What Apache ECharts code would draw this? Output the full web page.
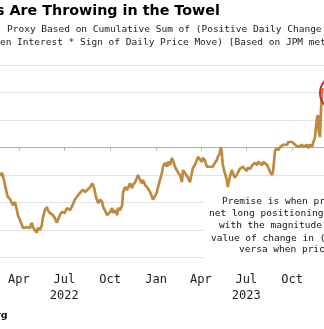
<!DOCTYPE html>
<html>
<head>
<meta charset="utf-8">
<script src="https://cdn.jsdelivr.net/npm/echarts@6/dist/echarts.min.js"></script>
<style>
  html, body { margin: 0; padding: 0; background: #fff; }
  #chart { width: 324px; height: 329px; }
</style>
</head>
<body>
<div id="chart"></div>
<script>
// Positioning proxy readings (arbitrary units), by date
const dates = [
  '2022-02-22','2022-02-26','2022-03-02','2022-03-04','2022-03-08','2022-03-10','2022-03-14','2022-03-18',
  '2022-03-20','2022-03-24','2022-03-28','2022-03-30','2022-04-03','2022-04-07','2022-04-09','2022-04-13',
  '2022-04-17','2022-04-23','2022-04-27','2022-04-29','2022-05-03','2022-05-07','2022-05-09','2022-05-13',
  '2022-05-17','2022-05-19','2022-05-23','2022-05-27','2022-05-29','2022-06-02','2022-06-08','2022-06-12',
  '2022-06-16','2022-06-18','2022-06-22','2022-06-26','2022-07-02','2022-07-06','2022-07-12','2022-07-16',
  '2022-07-18','2022-07-22','2022-07-26','2022-08-01','2022-08-07','2022-08-12','2022-08-16','2022-08-22',
  '2022-08-26','2022-08-28','2022-08-30','2022-09-03','2022-09-07','2022-09-11','2022-09-15','2022-09-17',
  '2022-09-21','2022-09-25','2022-09-27','2022-10-01','2022-10-05','2022-10-07','2022-10-11','2022-10-15',
  '2022-10-17','2022-10-21','2022-10-25','2022-10-27','2022-10-31','2022-11-04','2022-11-06','2022-11-10',
  '2022-11-14','2022-11-16','2022-11-20','2022-11-24','2022-11-26','2022-11-30','2022-12-04','2022-12-06',
  '2022-12-10','2022-12-14','2022-12-16','2022-12-20','2022-12-24','2022-12-26','2022-12-30','2023-01-03',
  '2023-01-05','2023-01-09','2023-01-13','2023-01-15','2023-01-19','2023-01-23','2023-01-25','2023-01-29',
  '2023-02-02','2023-02-04','2023-02-08','2023-02-12','2023-02-14','2023-02-18','2023-02-22','2023-02-24',
  '2023-02-28','2023-03-04','2023-03-06','2023-03-10','2023-03-14','2023-03-16','2023-03-20','2023-03-24',
  '2023-03-26','2023-03-30','2023-04-03','2023-04-05','2023-04-09','2023-04-13','2023-04-15','2023-04-19',
  '2023-04-23','2023-04-25','2023-04-29','2023-05-03','2023-05-05','2023-05-09','2023-05-11','2023-05-13',
  '2023-05-15','2023-05-19','2023-05-23','2023-05-25','2023-05-29','2023-06-02','2023-06-04','2023-06-08',
  '2023-06-12','2023-06-18','2023-06-24','2023-06-28','2023-07-02','2023-07-04','2023-07-09','2023-07-13',
  '2023-07-15','2023-07-19','2023-07-23','2023-07-25','2023-07-29','2023-08-02','2023-08-04','2023-08-08',
  '2023-08-12','2023-08-14','2023-08-18','2023-08-22','2023-08-24','2023-08-26','2023-08-28','2023-09-01',
  '2023-09-03','2023-09-07','2023-09-11','2023-09-13','2023-09-17','2023-09-21','2023-09-23','2023-09-27',
  '2023-10-01','2023-10-03','2023-10-07','2023-10-11','2023-10-13','2023-10-17','2023-10-21','2023-10-23',
  '2023-10-27','2023-10-31','2023-11-02','2023-11-06','2023-11-10','2023-11-12','2023-11-16','2023-11-18',
  '2023-11-20','2023-11-22','2023-11-24','2023-11-26','2023-11-28','2023-11-30','2023-12-02'
];
const values = [
  -52,-46,-59,-68,-85,-90,-94,-95,
  -105,-99,-114,-123,-132,-141,-146,-143,
  -145,-146,-137,-145,-150,-155,-146,-150,
  -141,-128,-114,-108,-114,-119,-123,-128,
  -137,-135,-123,-117,-119,-110,-114,-108,
  -110,-95,-90,-83,-77,-81,-81,-72,
  -65,-63,-74,-92,-101,-95,-99,-108,
  -110,-123,-126,-117,-110,-119,-114,-123,
  -110,-114,-105,-81,-72,-77,-74,-65,
  -74,-68,-63,-65,-50,-59,-65,-59,
  -68,-72,-74,-81,-90,-95,-92,-81,
  -72,-59,-45,-35,-28,-35,-26,-32,
  -19,-23,-35,-35,-45,-50,-63,-41,
  -46,-45,-55,-63,-46,-37,-32,-23,
  -17,-19,-26,-19,-23,-35,-37,-35,
  -32,-35,-28,-23,-17,-10,1,-10,
  -32,-46,-59,-72,-54,-41,-46,-55,
  -50,-39,-35,-39,-43,-37,-39,-32,
  -35,-28,-32,-26,-28,-32,-26,-28,
  -32,-35,-45,-50,-41,-23,-5,-1,
  -5,1,-1,5,8,5,10,8,
  10,8,5,8,1,-1,5,1,
  -1,5,-1,5,1,8,19,37,
  54,59,26,19,68,99,108
];

// Visible date window and axis scale
const firstDay = '2022-02-22';
const lastDay = '2023-12-04';
const yMin = -200, yMax = 150, yStep = 50;
const monthLabels = { '01': 'Jan', '04': 'Apr', '07': 'Jul', '10': 'Oct' };

const titleText = 's Are Throwing in the Towel';
const subtitleLines = [
  'Proxy Based on Cumulative Sum of (Positive Daily Change in',
  'Open Interest * Sign of Daily Price Move) [Based on JPM methodology]'
];
const noteLines = [
  'Premise is when price rises,',
  'net long positioning increases,',
  'with the magnitude being the absolute',
  'value of change in (open interest), and vice',
  'versa when price falls.'
];
const sourceText = 'Source: Bloomberg';

// One category per calendar day so spacing follows the calendar
function dayList(from, to) {
  const out = [];
  const d = new Date(from + 'T00:00:00Z');
  const end = new Date(to + 'T00:00:00Z');
  while (d <= end) {
    out.push(d.toISOString().slice(0, 10));
    d.setUTCDate(d.getUTCDate() + 1);
  }
  return out;
}
const categories = dayList(firstDay, lastDay);
const byDate = {};
dates.forEach((d, i) => { byDate[d] = values[i]; });
const lineData = categories.map(c => (c in byDate ? byDate[c] : null));

const isQuarterStart = (idx, val) => /-(01|04|07|10)-01$/.test(val);
const quarterLabel = val => {
  const m = val.slice(5, 7);
  return m === '07' ? monthLabels[m] + '\n' + val.slice(0, 4) : monthLabels[m];
};

const gridColors = ['#e2e2e2', '#e2e2e2', '#e2e2e2', '#e2e2e2', 'transparent', '#e2e2e2', '#e2e2e2', '#e2e2e2'];
const zeroColors = ['transparent', 'transparent', 'transparent', 'transparent', '#9a9a9a', 'transparent', 'transparent', 'transparent'];

const mono = '"DejaVu Sans Mono", monospace';
const chart = echarts.init(document.getElementById('chart'), null, { renderer: 'canvas' });

const valueAxis = (colors, dashed) => ({
  type: 'value',
  position: 'right',
  min: yMin, max: yMax, interval: yStep,
  axisLine: { show: false },
  axisTick: { show: false },
  axisLabel: { show: false },
  splitLine: { show: true, lineStyle: { color: colors, width: 1, type: dashed ? [3, 3] : 'solid' } }
});

const noteText = (i, x, y) => ({
  type: 'text', x: x, y: y, z: 100,
  style: { text: noteLines[i], font: '9.5px ' + mono, fill: '#111', textAlign: 'left', textVerticalAlign: 'middle' }
});

chart.setOption({
  animation: false,
  backgroundColor: '#ffffff',
  grid: { left: 0, right: 0, top: 65, bottom: 71.5, containLabel: false },
  xAxis: {
    type: 'category',
    data: categories,
    boundaryGap: false,
    offset: 7.5,
    axisLine: { show: true, lineStyle: { color: '#b0b0b0', width: 1 } },
    axisTick: { show: true, interval: isQuarterStart, length: 3, lineStyle: { color: '#b0b0b0' } },
    axisLabel: {
      interval: isQuarterStart,
      formatter: quarterLabel,
      fontFamily: mono,
      fontSize: 12,
      lineHeight: 16,
      color: '#1a1a1a',
      margin: 7
    },
    splitLine: { show: false }
  },
  yAxis: [valueAxis(gridColors, false), valueAxis(zeroColors, true)],
  series: [{
    type: 'line',
    data: lineData,
    connectNulls: true,
    showSymbol: false,
    symbol: 'none',
    lineStyle: { color: '#c08a3e', width: 2.7 },
    z: 3
  }],
  graphic: [
    { type: 'text', x: -4, y: 11, z: 100,
      style: { text: titleText, font: 'bold 14.3px "DejaVu Sans"', fill: '#000', textAlign: 'left', textVerticalAlign: 'middle' } },
    { type: 'text', x: 7, y: 30, z: 100,
      style: { text: subtitleLines[0], font: '9.5px ' + mono, fill: '#1a1a1a', textAlign: 'left', textVerticalAlign: 'middle' } },
    { type: 'text', x: -11.5, y: 43, z: 100,
      style: { text: subtitleLines[1], font: '9.5px ' + mono, fill: '#1a1a1a', textAlign: 'left', textVerticalAlign: 'middle' } },
    { type: 'rect', z: 90, shape: { x: 204, y: 191, width: 140, height: 69 }, style: { fill: '#ffffff' } },
    noteText(0, 222, 201.7),
    noteText(1, 209, 214),
    noteText(2, 219, 226),
    noteText(3, 211, 238.3),
    noteText(4, 239, 250),
    { type: 'ellipse', z: 100, shape: { cx: 333, cy: 93, rx: 13, ry: 15.5 },
      style: { fill: 'none', stroke: '#c62b3c', lineWidth: 2 } },
    { type: 'text', x: 7.5, y: 315.5, z: 100,
      style: { text: sourceText, font: 'bold 9.5px "DejaVu Sans"', fill: '#111', textAlign: 'right', textVerticalAlign: 'middle' } }
  ]
});
</script>
</body>
</html>
